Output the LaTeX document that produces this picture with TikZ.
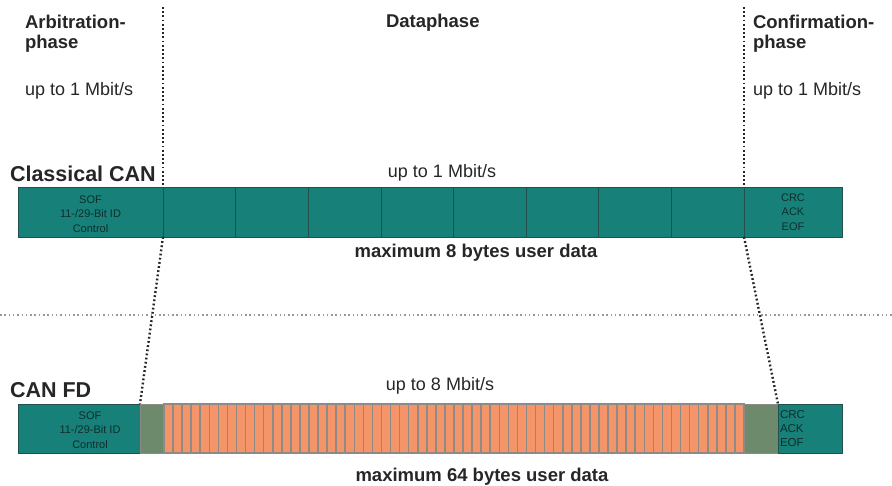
\documentclass[tikz,border=0pt]{standalone}
\usepackage{fontspec}
\setmainfont{Liberation Sans}
\usetikzlibrary{positioning,calc}

\definecolor{canteal}{HTML}{178079}
\definecolor{canedge}{HTML}{22504C}
\definecolor{cangrey}{HTML}{6E8A6D}
\definecolor{canorange}{HTML}{F39568}
\definecolor{stripeedge}{HTML}{8F8A85}
\definecolor{txtdark}{HTML}{262626}
\definecolor{fieldtxt}{HTML}{0F2E2B}

\begin{document}
\begin{tikzpicture}[x=1pt,y=1pt]
    \tikzstyle{every node}=[inner sep=0,outer sep=0,text=txtdark]
    \tikzstyle{field}=[draw=canedge,fill=canteal,line width=0.6,minimum height=50]
    \tikzstyle{fdfield}=[field,minimum height=49]
    \tikzstyle{gap}=[fdfield,fill=cangrey,draw=stripeedge]
    \tikzstyle{stripe}=[draw=stripeedge,fill=canorange,line width=1.6,minimum height=49,minimum width=9.0625]
    \tikzstyle{fieldtxt}=[text=fieldtxt,font=\fontsize{11}{14.5}\selectfont,align=center]
    \tikzstyle{phasehead}=[font=\fontsize{18.5}{20.5}\selectfont\bfseries,align=left]
    \tikzstyle{rate}=[font=\fontsize{18}{20}\selectfont]
    \tikzstyle{frame}=[font=\fontsize{21.5}{24}\selectfont\bfseries]
    \tikzstyle{payload}=[font=\fontsize{18.5}{20}\selectfont\bfseries]
    \tikzstyle{phase}=[line width=2.4,dash pattern=on 1.8 off 2.4,black!85]
    \tikzstyle{split}=[line width=1.3,dash pattern=on 1.5 off 2.8,black!40]
    {
        \useasboundingbox (0,0) rectangle (892,-486);

        % phase headings
        \node[phasehead,anchor=north west] (arbhead) at (25,-15) {Arbitration-\\phase};
        \node[phasehead,anchor=base west] (datahead) at (386,-27.5) {Dataphase};
        \node[phasehead,anchor=north west] (confhead) at (753,-15) {Confirmation-\\phase};
        \node[rate,anchor=base west] (arbrate) at (25,-96) {up to 1 Mbit/s};
        \node[rate,anchor=base west] (confrate) at (753,-96) {up to 1 Mbit/s};

        % classical CAN
        \node[frame,anchor=base west] (cclabel) at (10,-182) {Classical CAN};
        \node[rate,anchor=base] (ccrate) at (442,-178) {up to 1 Mbit/s};
        \node[field,minimum width=145] (cchead) at (90.5,-212) {};
        \node[fieldtxt] (ccid) at (90.5,-214) {SOF\\11-/29-Bit ID\\Control};
        \foreach \i in {1,...,8}{
            \pgfmathsetmacro{\cx}{163+(\i-0.5)*72.625}
            \node[field,minimum width=72.625] (ccd\i) at (\cx,-212) {};
        }
        \node[field,minimum width=98] (cctail) at (793,-212) {};
        \node[fieldtxt] (cccrc) at (793,-212) {CRC\\ACK\\EOF};
        \node[payload,anchor=base] (ccbytes) at (476,-258) {maximum 8 bytes user data};

        % CAN FD
        \node[frame,anchor=base west] (fdlabel) at (10,-398) {CAN FD};
        \node[rate,anchor=base] (fdrate) at (440,-391) {up to 8 Mbit/s};
        \node[fdfield,minimum width=122] (fdhead) at (79,-428.5) {};
        \node[fieldtxt] (fdid) at (90,-430) {SOF\\11-/29-Bit ID\\Control};
        \node[gap,minimum width=24] (fdarb) at (152,-428.5) {};
        \foreach \i in {1,...,64}{
            \pgfmathsetmacro{\sx}{164+(\i-0.5)*9.0625}
            \node[stripe] (fdb\i) at (\sx,-428.5) {};
        }
        \node[gap,minimum width=34] (fdcrc) at (761,-428.5) {};
        \node[fdfield,minimum width=64] (fdtail) at (810,-428.5) {};
        \node[fieldtxt,align=left,anchor=west,font=\fontsize{11.5}{14}\selectfont] (fdcrctxt) at ($(fdtail.west)+(2,0)$) {CRC\\ACK\\EOF};
        \node[payload,anchor=base] (fdbytes) at (482,-481) {maximum 64 bytes user data};

        % separators
        \coordinate (sepl) at (0,-315);
        \coordinate (sepr) at (892,-315);
        \draw[split] (sepl) -- (sepr);
        \coordinate (arbtop) at (163,-7);
        \coordinate (conftop) at (744,-7);
        \draw[phase] (arbtop) -- (cchead.north east);
        \draw[phase] (cchead.south east) -- (fdhead.north east);
        \draw[phase] (conftop) -- (cctail.north west);
        \draw[phase] (cctail.south west) -- (fdtail.north west);
    }
\end{tikzpicture}
\end{document}
